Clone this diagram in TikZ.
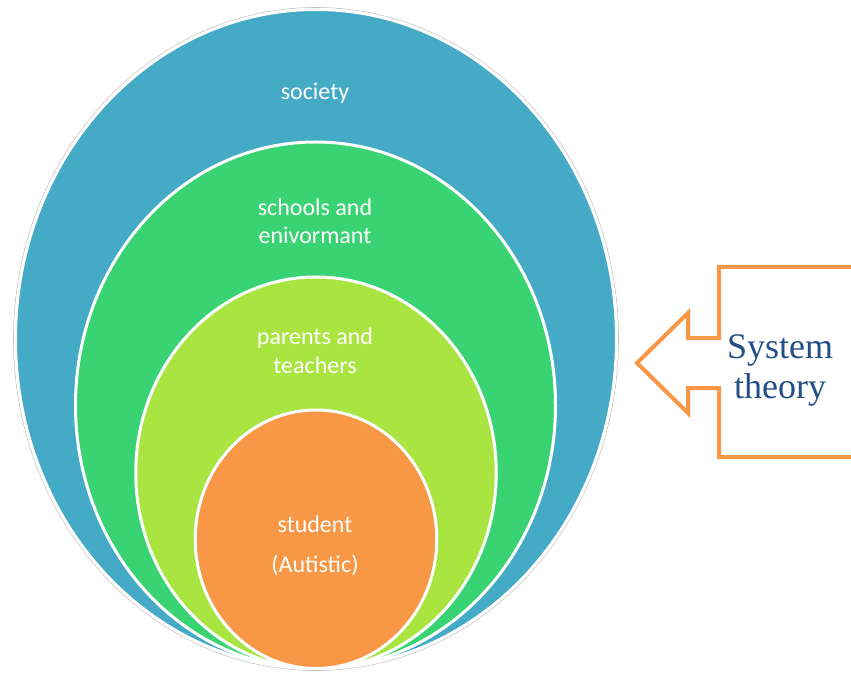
\documentclass[tikz,border=0pt]{standalone}
\usepackage{fontspec}
\setmainfont{Liberation Serif}
\newfontfamily\calib{Carlito}
\usetikzlibrary{shapes.geometric}
\definecolor{cblue}{HTML}{44AAC6}
\definecolor{cgreen}{HTML}{39D373}
\definecolor{clime}{HTML}{A9E440}
\definecolor{corange}{HTML}{F89745}
\definecolor{ctext}{HTML}{234E86}
\tikzset{
  ring/.style={ellipse, draw=white, line width=3pt, inner sep=0pt, outer sep=0pt},
  lbl/.style={anchor=base, text=white, font=\calib\fontsize{24}{28}\selectfont, inner sep=0pt},
  callout/.style={draw=corange, line width=4pt, line join=miter},
  sysl/.style={anchor=base, text=ctext, font=\fontsize{36}{40}\selectfont, inner sep=0pt}
}
\begin{document}
\begin{tikzpicture}[x=1pt,y=-1pt]
\clip (0,0) rectangle (851,676);
\fill[white] (0,0) rectangle (851,676);
% outer faint outline
\node[ellipse, draw=black!25, line width=0.6pt, minimum width=605pt, minimum height=663pt, inner sep=0pt] (shadow) at (316,339) {};
\node[ring, fill=cblue, minimum width=601pt, minimum height=659pt] (society) at (316,339) {};
\node[ring, fill=cgreen, minimum width=480pt, minimum height=526.5pt] (schools) at (315.5,405.25) {};
\node[ring, fill=clime, minimum width=360.5pt, minimum height=391.5pt] (parents) at (316,472.75) {};
\node[ring, fill=corange, minimum width=241.5pt, minimum height=258.5pt] (student) at (316,539.25) {};
% labels
\node[lbl] (t1) at (315,100) {society};
\node[lbl] (t2) at (315,216) {schools and};
\node[lbl] (t3) at (315,244) {enivormant};
\node[lbl] (t4) at (315,344) {parents and};
\node[lbl] (t5) at (315,373) {teachers};
\node[lbl] (t6) at (315,532) {student};
\node[lbl] (t7) at (315,572) {(Autistic)};
% callout arrow
\draw[callout] (870,267) -- (719,267) -- (719,338) -- (688,338) -- (688,313) -- (637,363)
  -- (688,413) -- (688,388) -- (719,388) -- (719,457) -- (870,457);
\node[sysl] (s1) at (780,358) {System};
\node[sysl] (s2) at (780,398) {theory};
\end{tikzpicture}
\end{document}
